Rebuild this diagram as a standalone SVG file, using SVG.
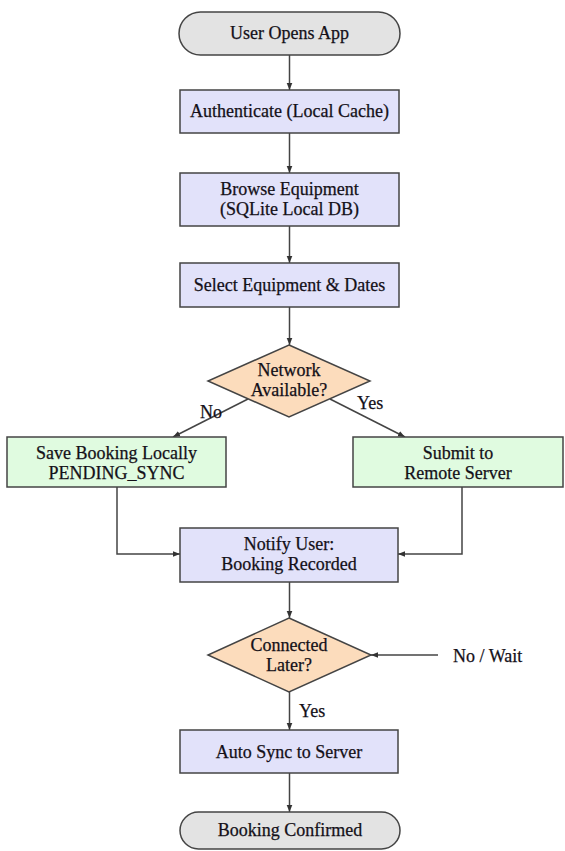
<svg xmlns="http://www.w3.org/2000/svg" width="565" height="851" viewBox="0 0 565 851">
<defs>
<marker id="ah" viewBox="0 0 10 10" refX="10" refY="5" markerWidth="7" markerHeight="7" markerUnits="userSpaceOnUse" orient="auto">
<path d="M0,1 L10,5 L0,9 Z" fill="#333"/>
</marker>
</defs>
<style>
text{font-family:"Liberation Serif","Times New Roman",serif;font-size:18px;fill:#141018;stroke:#141018;stroke-width:0.25;text-anchor:middle}
.lbl{text-anchor:start}
.term{fill:#e3e3e3;stroke:#444;stroke-width:1.5}
.proc{fill:#e2e2fa;stroke:#444;stroke-width:1.5}
.green{fill:#e0fbe0;stroke:#444;stroke-width:1.5}
.dec{fill:#fcdcbc;stroke:#444;stroke-width:1.5}
.conn path{fill:none;stroke:#444;stroke-width:1.5;marker-end:url(#ah)}
</style>
<rect width="565" height="851" fill="#fff"/>
<g class="conn" id="connectors">
<path d="M289.5,55 V90"/>
<path d="M289.5,133 V173"/>
<path d="M289.5,226 V263"/>
<path d="M289.5,307 V345"/>
<path d="M248,399 L173,437"/>
<path d="M330,399 L405,437"/>
<path d="M117,487 V554 H180"/>
<path d="M462,487 V554 H398"/>
<path d="M289.5,582 V618"/>
<path d="M438,655 H371"/>
<path d="M289.5,692 V730"/>
<path d="M289.5,773 V812"/>
</g>
<g id="start"><rect class="term" x="179" y="12" width="221" height="43" rx="21.5"/><text x="289.5" y="39">User Opens App</text></g>
<g id="auth"><rect class="proc" x="180" y="90" width="219" height="43"/><text x="289.5" y="117">Authenticate (Local Cache)</text></g>
<g id="browse"><rect class="proc" x="180" y="173" width="219" height="53"/><text x="289.5" y="195">Browse Equipment</text><text x="289.5" y="215">(SQLite Local DB)</text></g>
<g id="select"><rect class="proc" x="180" y="263" width="219" height="44"/><text x="289.5" y="291">Select Equipment &amp; Dates</text></g>
<g id="network"><path class="dec" d="M289,345 L370,381 L289,417 L208,381 Z"/><text x="289" y="376">Network</text><text x="289" y="396">Available?</text></g>
<g id="lblNo"><text class="lbl" x="200" y="418">No</text></g>
<g id="lblYes"><text class="lbl" x="357" y="409">Yes</text></g>
<g id="save"><rect class="green" x="7" y="437" width="219" height="50"/><text x="116.5" y="459">Save Booking Locally</text><text x="116.5" y="479">PENDING_SYNC</text></g>
<g id="submit"><rect class="green" x="353" y="437" width="210" height="50"/><text x="458" y="459">Submit to</text><text x="458" y="479">Remote Server</text></g>
<g id="notify"><rect class="proc" x="180" y="528" width="218" height="54"/><text x="289" y="550">Notify User:</text><text x="289" y="570">Booking Recorded</text></g>
<g id="connected"><path class="dec" d="M289,618 L371,655 L289,692 L208,655 Z"/><text x="289" y="651">Connected</text><text x="289" y="671">Later?</text></g>
<g id="lblWait"><text class="lbl" x="453" y="662">No / Wait</text></g>
<g id="lblYes2"><text class="lbl" x="299" y="717">Yes</text></g>
<g id="autosync"><rect class="proc" x="180" y="730" width="218" height="43"/><text x="289" y="758">Auto Sync to Server</text></g>
<g id="confirmed"><rect class="term" x="180" y="812" width="220" height="37" rx="18.5"/><text x="290" y="836">Booking Confirmed</text></g>
</svg>
